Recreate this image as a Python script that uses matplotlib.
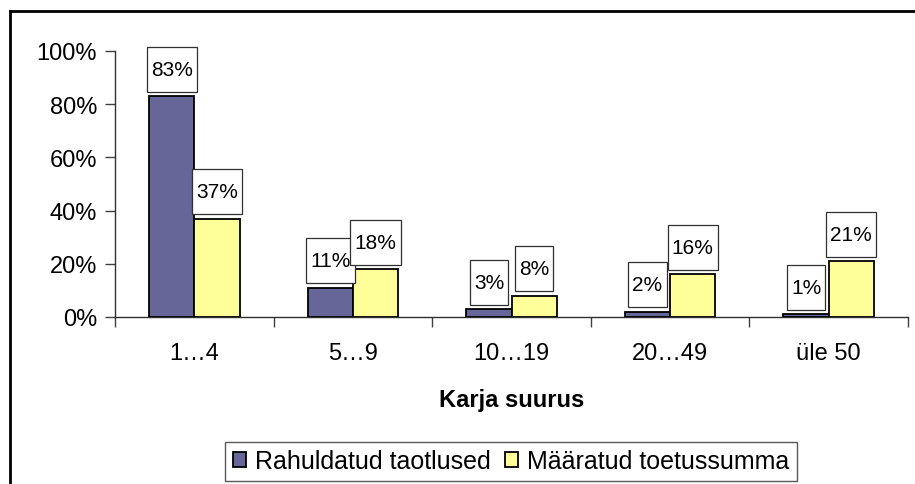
import matplotlib
matplotlib.use("Agg")
import matplotlib.pyplot as plt
from matplotlib.lines import Line2D
from matplotlib.path import Path
from matplotlib.ticker import FuncFormatter
import numpy as np

plt.rcParams['font.family'] = ['Liberation Sans', 'DejaVu Sans']

categories = ["1…4", "5…9", "10…19", "20…49", "üle 50"]
rahuldatud = [83, 11, 3, 2, 1]
maaratud = [37, 18, 8, 16, 21]
series_names = ["Rahuldatud taotlused", "Määratud toetussumma"]
yticks = [0, 20, 40, 60, 80, 100]
xlabel = "Karja suurus"


def label_box(x0, y0, width, height, mutation_size):
    px = 0.2 * mutation_size
    py = 0.62 * mutation_size
    x0, y0 = x0 - px, y0 - py
    x1, y1 = x0 + width + 2 * px, y0 + height + 2 * py
    return Path([(x0, y0), (x1, y0), (x1, y1), (x0, y1), (x0, y0)],
                closed=True)


fig = plt.figure(figsize=(9.15, 4.85), dpi=100)
ax = fig.add_axes([115/915, 1-318/485, (908-115)/915, (318-52)/485])

x = np.arange(len(categories))
w = 0.285
b1 = ax.bar(x - w/2, rahuldatud, w, color='#666699', edgecolor='black', linewidth=1.3,
            label=series_names[0], zorder=3)
b2 = ax.bar(x + w/2, maaratud, w, color='#FFFF99', edgecolor='black', linewidth=1.3,
            label=series_names[1], zorder=3)

for bars, vals in ((b1, rahuldatud), (b2, maaratud)):
    for r, v in zip(bars, vals):
        ax.annotate(f"{v}%", (r.get_x() + r.get_width()/2, r.get_height()),
                    xytext=(0, 12.5), textcoords='offset points', ha='center', va='bottom',
                    fontsize=15, zorder=5,
                    bbox=dict(boxstyle=label_box, facecolor='white',
                              edgecolor='#303030', linewidth=0.9))

ax.set_xlim(-0.5, len(categories) - 0.5)
ax.set_ylim(0, 100)
ax.set_yticks(yticks)
ax.yaxis.set_major_formatter(FuncFormatter(lambda v, p: f"{int(v)}%"))
ax.set_xticks(x)
ax.set_xticklabels(categories)
ax.set_xticks(np.arange(-0.5, len(categories)), minor=True)
ax.tick_params(axis='x', which='major', length=0, pad=18, labelsize=17)
ax.tick_params(axis='x', which='minor', length=7, width=1, color='#404040', direction='out')
ax.tick_params(axis='y', length=7, width=1, color='#404040', labelsize=17, pad=6)
for s in ('top', 'right'):
    ax.spines[s].set_visible(False)
for s in ('left', 'bottom'):
    ax.spines[s].set_color('#303030')
    ax.spines[s].set_linewidth(1)

ax.set_xlabel(xlabel, fontsize=17, fontweight='bold', labelpad=17)

leg = fig.legend(handles=[b1, b2], loc='center', bbox_to_anchor=(511/915, 1-462/485),
                 ncol=2, fontsize=18, frameon=True, fancybox=False, shadow=False,
                 handlelength=0.55, handleheight=0.55, handletextpad=0.35,
                 columnspacing=0.55, borderpad=0.3, borderaxespad=0)
leg.get_frame().set_edgecolor('#303030')
leg.get_frame().set_linewidth(1)

fig.add_artist(Line2D([10/915, 10/915], [0, 1-12/485], color='black', linewidth=2,
                      transform=fig.transFigure))
fig.add_artist(Line2D([10/915, 1], [1-12/485, 1-12/485], color='black', linewidth=2,
                      transform=fig.transFigure))

fig.savefig("out.png", dpi=100)
